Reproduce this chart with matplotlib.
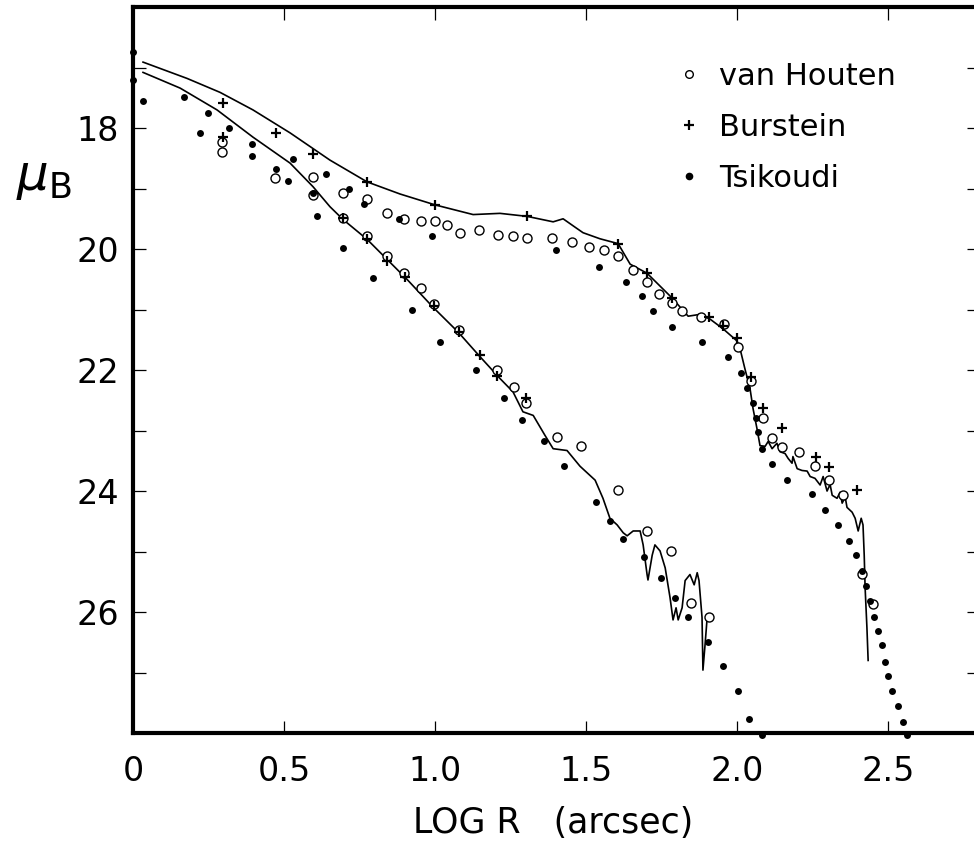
import matplotlib
matplotlib.use("Agg")
import matplotlib.pyplot as plt
from matplotlib.ticker import MultipleLocator

# surface brightness profiles mu_B vs log R (arcsec)
# upper profile (continuous trace)
upper_logr = [0.033, 0.179, 0.288, 0.397, 0.520, 0.652, 0.775, 0.884, 1.000, 1.126,
              1.215, 1.305, 1.391, 1.424, 1.464, 1.490, 1.546, 1.606, 1.646, 1.702,
              1.785, 1.838, 1.877, 1.911, 1.954, 2.000, 2.010, 2.026, 2.043, 2.053,
              2.066, 2.076, 2.093, 2.103, 2.116, 2.132, 2.142, 2.159, 2.169, 2.182,
              2.185, 2.199, 2.215, 2.232, 2.242, 2.258, 2.275, 2.285, 2.298, 2.308,
              2.315, 2.331, 2.341, 2.348, 2.358, 2.364, 2.381, 2.391, 2.401, 2.411,
              2.417, 2.421, 2.424, 2.430, 2.434]
upper_mu = [16.91, 17.18, 17.41, 17.70, 18.08, 18.53, 18.89, 19.09, 19.27, 19.43,
            19.41, 19.46, 19.55, 19.50, 19.64, 19.73, 19.83, 19.91, 20.25, 20.40,
            20.81, 21.11, 21.08, 21.16, 21.32, 21.52, 21.65, 21.98, 22.31, 22.64,
            22.97, 23.25, 23.26, 23.18, 23.30, 23.21, 23.35, 23.38, 23.46, 23.54,
            23.43, 23.63, 23.66, 23.67, 23.76, 23.79, 23.90, 23.76, 24.00, 23.89,
            24.07, 24.12, 24.02, 24.20, 24.10, 24.27, 24.35, 24.45, 24.66, 24.45,
            24.56, 25.06, 25.60, 26.26, 26.80]

# lower profile (continuous trace)
lower_logr = [0.033, 0.156, 0.278, 0.397, 0.520, 0.596, 0.652, 0.695, 0.775, 0.841,
              0.907, 0.993, 1.076, 1.149, 1.215, 1.258, 1.291, 1.325, 1.364, 1.391,
              1.437, 1.480, 1.530, 1.556, 1.579, 1.603, 1.623, 1.636, 1.656, 1.679,
              1.689, 1.702, 1.705, 1.719, 1.728, 1.745, 1.762, 1.778, 1.788, 1.798,
              1.805, 1.818, 1.828, 1.844, 1.858, 1.868, 1.874, 1.884, 1.887, 1.894,
              1.901, 1.904]
lower_mu = [17.08, 17.34, 17.70, 18.15, 18.58, 18.97, 19.30, 19.51, 19.84, 20.17,
            20.50, 20.96, 21.37, 21.78, 22.14, 22.36, 22.69, 22.75, 23.08, 23.30,
            23.33, 23.59, 23.82, 24.12, 24.45, 24.56, 24.69, 24.74, 24.66, 24.66,
            24.89, 25.38, 25.47, 25.06, 24.89, 24.99, 25.27, 25.76, 26.13, 25.93,
            26.13, 25.93, 25.48, 25.38, 25.55, 25.35, 25.48, 26.09, 26.96, 26.54,
            26.09, 26.04]

# van Houten (open circles)
vh_logr = [0.295, 0.295, 0.470, 0.596, 0.596, 0.695, 0.775, 0.841, 0.897, 0.954,
           1.000, 1.040, 1.083, 1.146, 1.209, 1.258, 1.305, 1.387, 1.454, 1.510,
           1.560, 1.606, 1.656, 1.702, 1.742, 1.785, 1.818, 1.881, 1.957, 2.003,
           2.046, 2.086, 2.116, 2.149, 2.205, 2.258, 2.305, 2.351, 2.414, 2.450,
           0.695, 0.775, 0.841, 0.897, 0.954, 0.997, 1.079, 1.205, 1.262, 1.301,
           1.404, 1.483, 1.606, 1.702, 1.781, 1.848, 1.907]
vh_mu = [18.23, 18.39, 18.82, 18.81, 19.10, 19.07, 19.17, 19.40, 19.50, 19.53,
         19.53, 19.61, 19.73, 19.69, 19.76, 19.79, 19.81, 19.81, 19.89, 19.96,
         20.02, 20.12, 20.35, 20.55, 20.75, 20.89, 21.03, 21.13, 21.24, 21.62,
         22.18, 22.80, 23.13, 23.28, 23.35, 23.59, 23.82, 24.07, 25.37, 25.86,
         19.48, 19.78, 20.12, 20.40, 20.65, 20.91, 21.34, 22.00, 22.28, 22.54,
         23.10, 23.26, 23.99, 24.66, 24.99, 25.85, 26.08]

# Burstein (plus signs)
bu_logr = [0.298, 0.298, 0.474, 0.596, 0.775, 1.000, 1.305, 1.606, 1.702, 1.785,
           1.907, 1.954, 2.000, 2.046, 2.086, 2.149, 2.262, 2.305, 2.397,
           0.695, 0.775, 0.841, 0.901, 0.997, 1.079, 1.149, 1.205, 1.301]
bu_mu = [17.59, 18.15, 18.08, 18.43, 18.89, 19.27, 19.46, 19.91, 20.40, 20.81,
         21.13, 21.27, 21.47, 22.11, 22.62, 22.95, 23.43, 23.61, 23.99,
         19.48, 19.84, 20.19, 20.47, 20.94, 21.37, 21.75, 22.10, 22.46]

# Tsikoudi (filled dots)
ts_logr = [0.0, 0.0, 0.033, 0.169, 0.222, 0.248, 0.318, 0.394, 0.394, 0.474, 0.513,
           0.530, 0.596, 0.609, 0.639,
           0.715, 0.765, 0.881, 0.990, 1.401, 1.543, 1.632, 1.685, 1.722, 1.785,
           1.884, 1.970, 2.013, 2.033, 2.053, 2.063, 2.070, 2.083, 2.116, 2.166,
           2.248, 2.291, 2.334, 2.371, 2.394, 2.414, 2.427, 2.440, 2.454, 2.467,
           2.480, 2.490, 2.500, 2.513, 2.533, 2.550, 2.563,
           0.695, 0.795, 0.924, 1.017, 1.136, 1.228, 1.288, 1.361, 1.427, 1.533,
           1.579, 1.623, 1.692, 1.748, 1.795, 1.838, 1.904, 1.954, 2.003, 2.040,
           2.083]
ts_mu = [16.75, 17.21, 17.56, 17.49, 18.08, 17.75, 18.00, 18.26, 18.46, 18.67, 18.87,
         18.51, 19.07, 19.45, 18.76,
         19.00, 19.25, 19.50, 19.79, 20.02, 20.29, 20.55, 20.78, 21.03, 21.29,
         21.54, 21.78, 22.05, 22.29, 22.54, 22.80, 23.03, 23.31, 23.56, 23.81,
         24.05, 24.32, 24.56, 24.83, 25.06, 25.32, 25.57, 25.81, 26.08, 26.31,
         26.55, 26.82, 27.06, 27.31, 27.56, 27.82, 28.03,
         19.99, 20.48, 21.01, 21.54, 22.00, 22.46, 22.82, 23.18, 23.59, 24.18,
         24.50, 24.79, 25.09, 25.43, 25.76, 26.08, 26.49, 26.90, 27.31, 27.77,
         28.03]

x_ticks = [0, 0.5, 1.0, 1.5, 2.0, 2.5]
x_ticklabels = ['0', '0.5', '1.0', '1.5', '2.0', '2.5']
y_ticks = [18, 20, 22, 24, 26]

plt.rcParams['font.family'] = ['DejaVu Sans']

fig = plt.figure(figsize=(9.74, 8.5), dpi=100, facecolor='white')
ax = fig.add_axes([0.1366, 0.1376, 0.8682, 0.8541])

ax.plot(upper_logr, upper_mu, color='black', lw=1.2)
ax.plot(lower_logr, lower_mu, color='black', lw=1.2)

kw = dict(linestyle='none', clip_on=False)
h_vh, = ax.plot(vh_logr, vh_mu, marker='o', ms=6.5, mfc='white', mec='black',
                mew=1.0, label='van Houten', **kw)
h_bu, = ax.plot(bu_logr, bu_mu, marker='+', ms=7, mec='black', mew=1.6,
                label='Burstein', **kw)
h_ts, = ax.plot(ts_logr, ts_mu, marker='o', ms=5, mfc='black', mec='black',
                mew=0, label='Tsikoudi', **kw)

ax.set_xlim(0, 2.8)
ax.set_ylim(28, 16)

ax.set_xticks(x_ticks)
ax.set_xticklabels(x_ticklabels)
ax.set_yticks(y_ticks)
ax.yaxis.set_minor_locator(MultipleLocator(1))
ax.tick_params(which='both', direction='in', length=9, width=0.9,
               top=True, right=True, labelsize=24)
ax.tick_params(axis='x', pad=16)
ax.tick_params(axis='y', pad=10)

for s in ax.spines.values():
    s.set_linewidth(3)

leg = ax.legend(handles=[h_vh, h_bu, h_ts], loc='upper left',
                bbox_to_anchor=(0.61, 0.962), frameon=False, fontsize=22,
                handlelength=0.8, handletextpad=0.6, labelspacing=0.72)
# legend symbols a bit smaller / larger than the data marks, as in the figure
leg_sizes = [5.5, 7, 5.5]
for hnd, sz in zip(leg.legend_handles, leg_sizes):
    hnd.set_markersize(sz)

fig.text(0.045, 0.79, r'$\mu_{\mathsf{B}}$', fontsize=36, ha='center', va='center')
fig.text(0.568, 0.032, 'LOG R   (arcsec)', fontsize=25, ha='center', va='center')

fig.savefig('out.png', dpi=100, facecolor='white')
